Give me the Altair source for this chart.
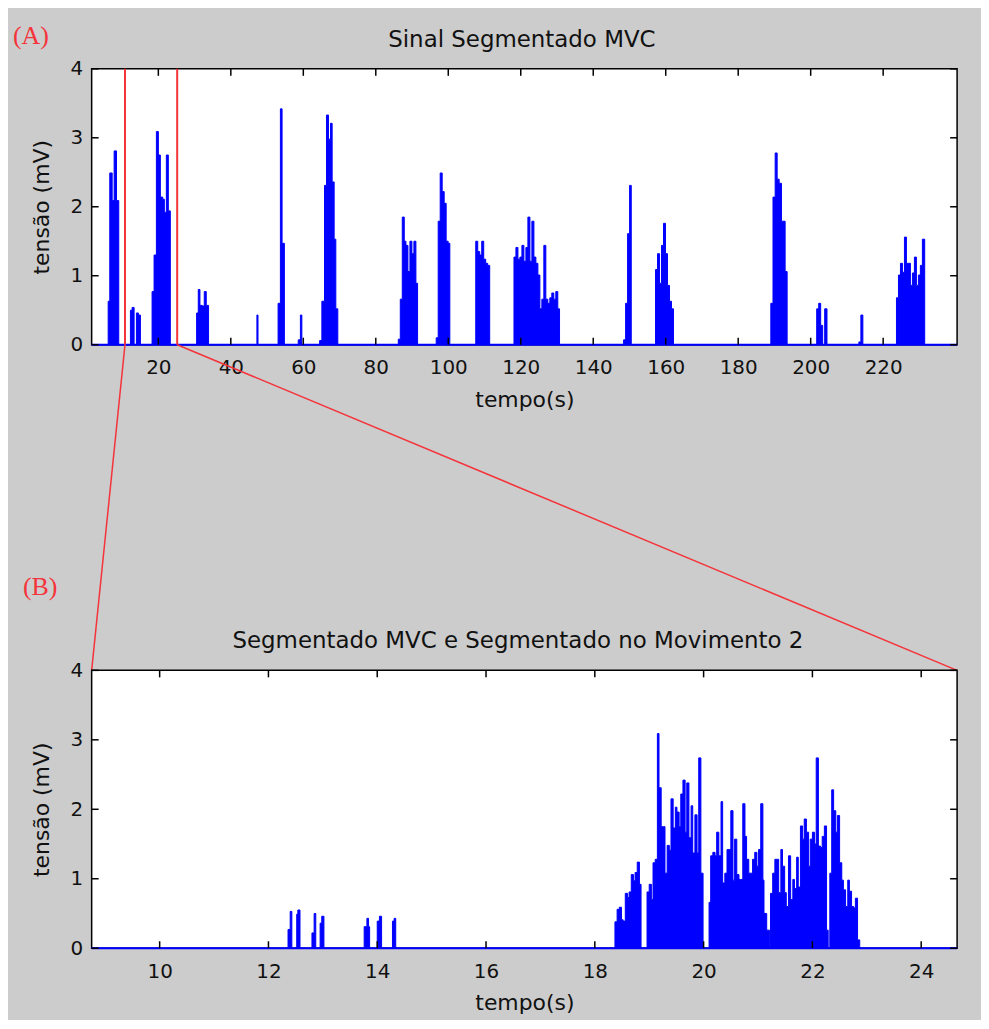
import altair as alt
import pandas as pd

# ---------------- data ----------------
A_DOMAIN = [1.6, 240.4]
A_XTICKS = [20, 40, 60, 80, 100, 120, 140, 160, 180, 200, 220]
B_DOMAIN = [8.75, 24.66]
B_XTICKS = [10, 12, 14, 16, 18, 20, 22, 24]
Y_TICKS = [0, 1, 2, 3, 4]
ZOOM_A = [10.8, 25.2]          # zoom window marked on panel A (s)

# Panel A: each burst = step edges (s) and step heights (mV)
A_T = [
    [6.16, 6.6, 7.26, 7.8, 8.45, 9.08],
    [12.3, 12.76, 13.31],
    [13.95, 14.5, 15.06],
    [18.27, 18.82, 19.46, 20.01, 20.56, 21.2, 21.66, 22.21, 22.76, 23.31],
    [30.56, 31.02, 31.48, 32.12, 32.67, 33.22, 33.86],
    [47.2, 47.5],
    [53.04, 53.68, 54.14, 54.78],
    [58.6, 59.2, 59.6],
    [64.5, 65.12, 65.85, 66.4, 66.95, 67.5, 67.96, 68.51, 68.97, 69.52],
    [86.21, 86.76, 87.31, 87.86, 88.32, 88.87, 89.42, 89.97, 90.52, 91.07, 91.53],
    [96.67, 97.22, 97.77, 98.32, 98.87, 99.42, 99.97, 100.43],
    [107.58, 108.13, 108.68, 109.23, 109.78, 110.33, 110.88, 111.43],
    [118.13, 118.67, 119.22, 119.77, 120.32, 120.87, 121.42, 121.97, 122.53, 123.07,
     123.63, 124.18, 124.73, 125.28, 125.82, 126.37, 126.92, 127.47, 128.02, 128.57,
     129.12, 129.67, 130.22, 130.7],
    [148.38, 148.93, 149.48, 150.03, 150.49],
    [157.19, 157.74, 158.29, 158.84, 159.39, 159.94, 160.49, 161.04, 161.59, 162.14],
    [189.0, 189.6, 190.2, 190.75, 191.3, 191.94, 192.95, 193.5],
    [201.66, 202.21, 202.76, 203.31],
    [203.86, 204.5],
    [213.3, 213.85, 214.4],
    [223.67, 224.22, 224.77, 225.32, 225.87, 226.42, 226.97, 227.52, 228.07, 228.62,
     229.17, 229.72, 230.27, 230.82, 231.46],
]
A_V = [
    [0.63, 2.49, 2.09, 2.81, 2.09],
    [0.50, 0.54],
    [0.46, 0.43],
    [0.77, 1.30, 3.09, 2.75, 2.14, 2.11, 1.92, 2.75, 1.94],
    [0.46, 0.80, 0.57, 0.56, 0.77, 0.57],
    [0.43],
    [0.60, 3.42, 1.47],
    [0.07, 0.43],
    [0.06, 0.63, 2.31, 3.33, 2.98, 3.21, 2.36, 1.53, 0.52],
    [0.08, 0.66, 1.85, 1.50, 1.44, 1.06, 1.50, 1.32, 1.50, 0.89],
    [0.10, 1.79, 2.49, 2.22, 2.05, 1.50, 1.47],
    [1.50, 1.35, 1.30, 1.50, 1.24, 1.18, 1.15],
    [1.27, 1.41, 1.24, 1.27, 1.44, 1.21, 1.41, 1.85, 1.21, 1.79, 1.27, 1.18, 1.01,
     0.52, 0.66, 1.44, 0.66, 0.60, 0.68, 0.75, 0.66, 0.77, 0.52],
    [0.07, 0.60, 1.61, 2.31],
    [1.09, 1.32, 0.89, 1.44, 1.76, 1.32, 0.86, 0.63, 0.52],
    [0.60, 2.14, 2.78, 2.40, 2.34, 1.79, 1.06],
    [0.52, 0.60, 0.28],
    [0.52],
    [0.04, 0.43],
    [0.68, 1.01, 1.18, 1.05, 1.56, 1.18, 1.18, 0.86, 1.04, 1.27, 0.86, 1.01, 1.15, 1.53],
]

# Panel B (zoom 8.75 - 24.66 s)
B_T = [
    [12.36, 12.40, 12.43],
    [12.52, 12.54, 12.58],
    [12.80, 12.84, 12.87],
    [12.95, 12.98, 13.02],
    [13.76, 13.81, 13.84, 13.86],
    [14.00, 14.04, 14.08],
    [14.28, 14.31, 14.34],
    [18.37, 18.41, 18.45, 18.49, 18.52, 18.56, 18.60, 18.63, 18.67, 18.71, 18.74,
     18.78, 18.82, 18.85],
    [18.96, 19.00, 19.04, 19.07, 19.11, 19.15, 19.18, 19.22, 19.26, 19.29, 19.33,
     19.37, 19.40, 19.44, 19.48, 19.51, 19.55, 19.58, 19.62, 19.66, 19.69, 19.73,
     19.77, 19.80, 19.84, 19.88, 19.91, 19.95, 19.99],
    [20.10, 20.13, 20.17, 20.21, 20.24, 20.28, 20.32, 20.35, 20.39, 20.43, 20.46,
     20.50, 20.54, 20.57, 20.61, 20.65, 20.68, 20.72, 20.76, 20.79, 20.83, 20.87,
     20.90, 20.94, 20.98, 21.01, 21.05, 21.09, 21.11, 21.16, 21.21],
    [21.23, 21.27, 21.31, 21.34, 21.38, 21.42, 21.45, 21.49, 21.52, 21.56, 21.60,
     21.64, 21.67, 21.71, 21.74, 21.78, 21.82, 21.85, 21.89, 21.93, 21.96, 22.00,
     22.04, 22.07, 22.11, 22.15, 22.18, 22.22, 22.26, 22.29],
    [22.32, 22.355, 22.39, 22.43, 22.46, 22.50, 22.54, 22.57, 22.61, 22.65, 22.68,
     22.72, 22.76, 22.79, 22.83, 22.87],
]
B_V = [
    [0.27, 0.53],
    [0.49, 0.55],
    [0.22, 0.50],
    [0.36, 0.46],
    [0.31, 0.43, 0.31],
    [0.39, 0.46],
    [0.39, 0.43],
    [0.38, 0.56, 0.59, 0.41, 0.39, 0.79, 0.73, 0.81, 1.06, 0.97, 1.09, 1.24, 0.92],
    [0.81, 0.92, 0.70, 1.23, 1.28, 3.09, 2.31, 1.75, 1.75, 1.08, 1.48, 1.41, 2.15,
     1.73, 2.03, 1.96, 1.75, 2.22, 2.42, 1.67, 2.38, 1.59, 2.05, 1.37, 1.92, 1.37,
     2.74, 1.08],
    [0.66, 1.33, 1.38, 1.33, 1.67, 1.33, 2.11, 0.94, 1.08, 1.42, 1.42, 1.98, 0.98,
     1.57, 1.06, 0.99, 0.99, 2.08, 1.61, 1.28, 1.08, 1.08, 1.28, 1.38, 1.18, 1.42,
     2.08, 0.98, 0.50, 0.26],
    [0.79, 1.08, 1.28, 1.28, 0.80, 1.42, 1.18, 0.80, 0.60, 1.33, 0.70, 0.99, 0.86,
     1.31, 0.88, 1.76, 1.57, 1.86, 1.67, 1.18, 1.57, 1.67, 1.50, 2.74, 1.47, 1.45,
     1.61, 1.76, 0.26],
    [1.08, 2.28, 1.98, 1.67, 1.91, 1.23, 0.98, 0.84, 0.60, 0.98, 0.82, 0.60, 0.58,
     0.72, 0.12],
]

TITLE_A = "Sinal Segmentado MVC"
TITLE_B = "Segmentado MVC e Segmentado no Movimento 2"
X_TITLE = "tempo(s)"
Y_TITLE = "tensão (mV)"

# ---------------- style / layout ----------------
BLUE = "#0000FF"
RED = "#F5333A"
TXT = "#111111"
BG = "#CCCCCC"
FONT = "DejaVu Sans"
W = 869
HA = 277
HB = 279
GAP = 327
TICK = 7


def step_rows(bursts_t, bursts_v, domain):
    rows = [{"t": domain[0], "v": 0.0}]
    for T, V in zip(bursts_t, bursts_v):
        for t, v in zip(T[:-1], V):
            rows.append({"t": t, "v": v})
        rows.append({"t": T[-1], "v": 0.0})
    rows.append({"t": domain[1], "v": 0.0})
    return pd.DataFrame(rows)


def panel(df, domain, xticks, H, extra):
    xs = alt.Scale(domain=domain, nice=False, zero=False)
    ys = alt.Scale(domain=[0, 4], nice=False)
    xax = alt.Axis(values=xticks, format="d", labelPadding=13, titlePadding=12)
    yax = alt.Axis(values=Y_TICKS, format="d", labelPadding=9, titlePadding=17)
    X = alt.X("t:Q", scale=xs, axis=xax, title=X_TITLE)
    Y = alt.Y("v:Q", scale=ys, axis=yax, title=Y_TITLE)

    area = alt.Chart(df).mark_area(interpolate="step-after", color=BLUE, opacity=1).encode(x=X, y=Y)
    line = alt.Chart(df).mark_line(interpolate="step-after", color=BLUE, strokeWidth=1).encode(x=X, y=Y)
    base = alt.Chart(pd.DataFrame({"t": [domain[0]], "t2": [domain[1]], "v": [0.0]})).mark_rule(
        color=BLUE, strokeWidth=2).encode(x=X, x2="t2:Q", y=Y)
    xt = pd.DataFrame({"t": xticks})
    yt = pd.DataFrame({"v": Y_TICKS})
    tb = alt.Chart(xt).mark_rule(color="black", strokeWidth=1.5).encode(
        x=X, y=alt.value(H), y2=alt.value(H - TICK))
    tt = alt.Chart(xt).mark_rule(color="black", strokeWidth=1.5).encode(
        x=X, y=alt.value(0), y2=alt.value(TICK))
    tl = alt.Chart(yt).mark_rule(color="black", strokeWidth=1.5).encode(
        y=Y, x=alt.value(0), x2=alt.value(TICK))
    tr = alt.Chart(yt).mark_rule(color="black", strokeWidth=1.5).encode(
        y=Y, x=alt.value(W - TICK), x2=alt.value(W))
    layers = [area, line, base, tb, tt, tl, tr] + extra
    return alt.layer(*layers).properties(width=W, height=H)


def text_layer(label, x, y, font, size, color, align="left"):
    return alt.Chart(pd.DataFrame({"label": [label]})).mark_text(
        font=font, fontSize=size, color=color, align=align, baseline="alphabetic"
    ).encode(text="label:N", x=alt.value(x), y=alt.value(y))


dfA = step_rows(A_T, A_V, A_DOMAIN)
dfB = step_rows(B_T, B_V, B_DOMAIN)

xsA = alt.Scale(domain=A_DOMAIN, nice=False, zero=False)
zoom_df = pd.DataFrame({"t": ZOOM_A})
zoom_lines = alt.Chart(zoom_df).mark_rule(color=RED, strokeWidth=2).encode(
    x=alt.X("t:Q", scale=xsA, title=X_TITLE), y=alt.value(0), y2=alt.value(HA))
conn_left = alt.Chart(zoom_df.iloc[[0]]).mark_rule(color=RED, strokeWidth=1.5).encode(
    x=alt.X("t:Q", scale=xsA, title=X_TITLE), y=alt.value(HA), x2=alt.value(0), y2=alt.value(HA + GAP))
conn_right = alt.Chart(zoom_df.iloc[[1]]).mark_rule(color=RED, strokeWidth=1.5).encode(
    x=alt.X("t:Q", scale=xsA, title=X_TITLE), y=alt.value(HA), x2=alt.value(W), y2=alt.value(HA + GAP))

extraA = [
    zoom_lines, conn_left, conn_right,
    text_layer("(A)", -79, -25, "Liberation Serif", 26, RED),
    text_layer(TITLE_A, 432, -22, FONT, 23, TXT, "center"),
    text_layer("(B)", -69, 528, "Liberation Serif", 26, RED),
    text_layer(TITLE_B, 428, 582, FONT, 23, TXT, "center"),
]

panelA = panel(dfA, A_DOMAIN, A_XTICKS, HA, extraA)
panelB = panel(dfB, B_DOMAIN, B_XTICKS, HB, [])

chart = alt.vconcat(panelA, panelB, spacing=GAP, bounds="flush").properties(
    background=BG,
    padding={"left": 4, "top": 12, "right": 21, "bottom": 3},
).configure_axis(
    labelFont=FONT, labelFontSize=20, labelColor=TXT,
    titleFont=FONT, titleFontSize=22, titleFontWeight="normal", titleColor=TXT,
    domain=False, ticks=False, tickSize=0, grid=False, labelFlush=False,
).configure_view(stroke="black", strokeWidth=1.5, fill="white")

chart.save("out.html", embed_options={"renderer": "svg", "actions": False})
